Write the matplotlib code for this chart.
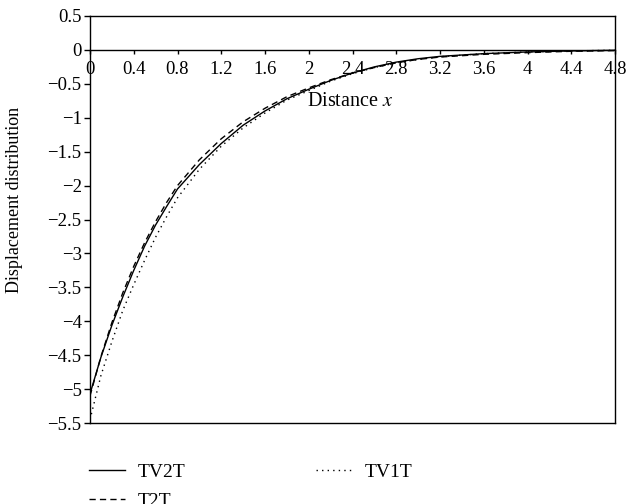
import numpy as np
import matplotlib
matplotlib.use('Agg')
import matplotlib.pyplot as plt

# ==================================数据====================================
x_vals = [0, 0.1, 0.2, 0.3, 0.4, 0.5, 0.6, 0.7, 0.8, 1.0, 1.2, 1.4, 1.6, 1.8,
          2.0, 2.2, 2.4, 2.6, 2.8, 3.0, 3.2, 3.6, 4.0, 4.4, 4.8]
tv2t = [-5.07, -4.53, -4.06, -3.64, -3.25, -2.89, -2.58, -2.31, -2.05, -1.69,
        -1.38, -1.11, -0.90, -0.72, -0.58, -0.45, -0.34, -0.25, -0.18, -0.13,
        -0.095, -0.055, -0.03, -0.015, -0.005]
t2t = [-5.10, -4.52, -4.02, -3.58, -3.19, -2.84, -2.53, -2.25, -2.00, -1.62,
       -1.31, -1.06, -0.86, -0.69, -0.56, -0.44, -0.34, -0.26, -0.19, -0.14,
       -0.105, -0.065, -0.04, -0.02, -0.01]
tv1t = [-5.45, -4.80, -4.30, -3.84, -3.46, -3.10, -2.76, -2.46, -2.18, -1.76,
        -1.42, -1.15, -0.93, -0.74, -0.60, -0.46, -0.35, -0.26, -0.19, -0.14,
        -0.10, -0.055, -0.03, -0.015, -0.005]

x_ticks = [0, 0.4, 0.8, 1.2, 1.6, 2, 2.4, 2.8, 3.2, 3.6, 4, 4.4, 4.8]
x_tick_labels = ['0', '0.4', '0.8', '1.2', '1.6', '2', '2.4', '2.8', '3.2',
                 '3.6', '4', '4.4', '4.8']
y_ticks = [0.5, 0, -0.5, -1, -1.5, -2, -2.5, -3, -3.5, -4, -4.5, -5, -5.5]
y_tick_labels = ['0.5', '0', '\u22120.5', '\u22121', '\u22121.5', '\u22122',
                 '\u22122.5', '\u22123', '\u22123.5', '\u22124', '\u22124.5',
                 '\u22125', '\u22125.5']

# ==================================绘图====================================
plt.rcParams['font.family'] = ['Liberation Serif', 'DejaVu Serif']
plt.rcParams['mathtext.fontset'] = 'stix'

fig = plt.figure(figsize=(6.26, 5.04), dpi=100)
ax = fig.add_axes([90 / 626, 1 - 423 / 504, 525 / 626, 407 / 504])

l1, = ax.plot(x_vals, tv2t, color='black', lw=1.0, label='TV2T')
l2, = ax.plot(x_vals, t2t, color='black', lw=1.0, ls=(0, (4.5, 3)), label='T2T')
l3, = ax.plot(x_vals, tv1t, color='black', lw=1.0, ls=(0, (1, 3)), label='TV1T')

ax.set_xlim(0, 4.8)
ax.set_ylim(-5.5, 0.5)

for sp in ax.spines.values():
    sp.set_linewidth(1.0)

# 主坐标轴底部不画刻度
ax.tick_params(axis='x', bottom=False, labelbottom=False)
ax.set_yticks(y_ticks)
ax.set_yticklabels(y_tick_labels)
ax.tick_params(axis='y', direction='out', length=4, width=1.0, pad=2,
               labelsize=13.5)

# x轴放在 y=0 处
sec = ax.secondary_xaxis(0, transform=ax.transData)
sec.set_xticks(x_ticks)
sec.set_xticklabels(x_tick_labels)
sec.tick_params(direction='out', length=3, width=1.0, pad=5, labelsize=13.5)
sec.spines['bottom'].set_linewidth(1.0)

ax.text(1.98, -0.76, 'Distance $x$', fontsize=14.5, ha='left', va='center')
ax.set_ylabel('Displacement distribution', fontsize=13)
ax.yaxis.set_label_coords(-0.128, 0.548)

fig.legend(handles=[l1, l2, l3], loc='upper left',
           bbox_to_anchor=(89 / 626, 1 - 463 / 504), ncol=2, frameon=False,
           fontsize=14, handlelength=1.85, handletextpad=0.67,
           columnspacing=6.7, labelspacing=0.6, borderpad=0, borderaxespad=0)

plt.savefig('out.png', dpi=100)
